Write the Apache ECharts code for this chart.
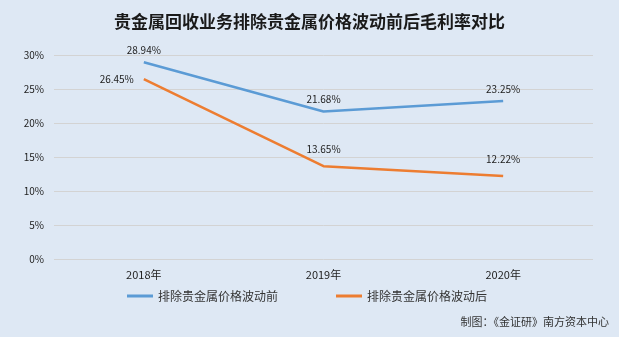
<!DOCTYPE html>
<html><head><meta charset="utf-8">
<script src="https://cdn.jsdelivr.net/npm/echarts@6/dist/echarts.min.js"></script>
<style>html,body{margin:0;padding:0;background:#dee8f4;}#c{width:619px;height:337px;}</style>
</head><body><div id="c"></div>
<script>
const categories = ['2018年', '2019年', '2020年'];
const seriesNames = ['排除贵金属价格波动前', '排除贵金属价格波动后'];
const before = [28.94, 21.68, 23.25];
const after = [26.45, 13.65, 12.22];
const yTicks = [0, 5, 10, 15, 20, 25, 30];

const font = '"Noto Sans CJK SC", "Microsoft YaHei", sans-serif';
const fmt = p => Number(p.value).toFixed(2) + '%';
const afterData = after.map((v, i) => i === 0
  ? { value: v, label: { position: 'left', distance: 10 } }
  : { value: v });

const chart = echarts.init(document.getElementById('c'));
chart.setOption({
  backgroundColor: '#dee8f4',
  textStyle: { fontFamily: font },
  title: {
    text: '贵金属回收业务排除贵金属价格波动前后毛利率对比',
    left: 'center', top: 8,
    textStyle: { fontSize: 17, fontWeight: 'bold', color: '#1a1a1a', fontFamily: font }
  },
  graphic: [{
    type: 'text', right: 10, top: 316,
    style: { text: '制图：《金证研》南方资本中心', fontSize: 11, fill: '#333', fontFamily: font }
  }],
  legend: {
    bottom: 30, left: 122, itemGap: 58,
    itemWidth: 26, itemHeight: 3, icon: 'rect',
    textStyle: { fontSize: 12, color: '#333', fontFamily: font },
    data: seriesNames
  },
  grid: { left: 54, right: 26, top: 55, bottom: 78 },
  xAxis: {
    type: 'category', data: categories, boundaryGap: true,
    axisLine: { show: false }, axisTick: { show: false },
    axisLabel: { fontSize: 11, color: '#222', margin: 10 }
  },
  yAxis: {
    type: 'value', min: yTicks[0], max: yTicks[yTicks.length - 1], interval: 5,
    axisLine: { show: false }, axisTick: { show: false },
    axisLabel: { formatter: '{value}%', fontSize: 10, color: '#222', margin: 10 },
    splitLine: { lineStyle: { color: '#d3d3d3', width: 1 } }
  },
  series: [
    {
      name: seriesNames[0], type: 'line', data: before, symbol: 'circle', symbolSize: 0,
      lineStyle: { width: 2.5, color: '#5b9bd5' }, itemStyle: { color: '#5b9bd5' },
      label: { show: true, position: 'top', distance: 7, formatter: fmt, fontSize: 10, color: '#222' }
    },
    {
      name: seriesNames[1], type: 'line', data: afterData, symbol: 'circle', symbolSize: 0,
      lineStyle: { width: 2.5, color: '#ed7d31' }, itemStyle: { color: '#ed7d31' },
      label: { show: true, position: 'top', distance: 12, formatter: fmt, fontSize: 10, color: '#222' }
    }
  ]
});
</script></body></html>
